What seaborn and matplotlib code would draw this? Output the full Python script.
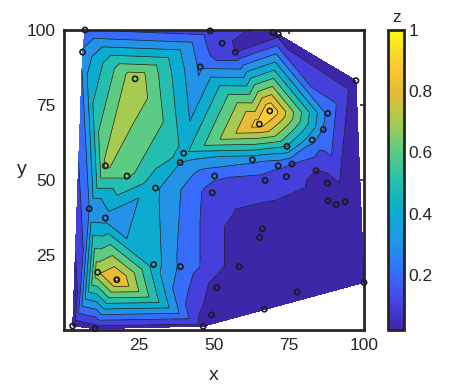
import numpy as np
import matplotlib
matplotlib.use("Agg")
import matplotlib.pyplot as plt
import matplotlib.tri as mtri
from matplotlib.colors import LinearSegmentedColormap, Normalize
from matplotlib.cm import ScalarMappable
import pandas as pd
import seaborn as sns

# scattered samples
x_pts = [7.0, 6.2, 23.7, 45.4, 48.7, 52.7, 57.1, 69.7, 71.4, 97.3,
         68.6, 65.1, 87.9, 86.4, 82.7, 74.3, 62.8, 71.4, 76.0, 84.0,
         50.2, 67.0, 74.1, 87.8, 88.0, 90.7, 93.7, 49.4, 66.1, 65.2,
         58.4, 50.9, 77.7, 66.8, 49.2, 46.4, 100.0, 39.9, 38.7, 13.8,
         21.0, 30.5, 8.4, 13.8, 11.2, 17.6, 29.9, 38.8, 2.9, 10.4]
y_pts = [100.0, 92.6, 83.7, 87.7, 99.7, 95.6, 92.6, 99.1, 98.6, 83.1,
         73.0, 68.6, 72.2, 66.8, 63.3, 61.2, 56.7, 54.7, 55.3, 53.1,
         51.3, 49.8, 51.1, 48.9, 43.1, 41.8, 42.7, 45.7, 33.7, 30.8,
         21.1, 14.1, 12.6, 6.9, 5.0, 1.2, 15.8, 58.9, 55.8, 54.7,
         51.3, 47.3, 40.4, 37.3, 19.2, 16.7, 21.8, 21.1, 1.3, 0.4]
z_vals = [0.20, 0.32, 0.78, 0.28, 0.15, 0.11, 0.10, 0.06, 0.06, 0.04,
          1.00, 0.95, 0.27, 0.30, 0.33, 0.50, 0.33, 0.22, 0.20, 0.10,
          0.22, 0.15, 0.15, 0.05, 0.04, 0.03, 0.03, 0.15, 0.04, 0.04,
          0.04, 0.05, 0.02, 0.02, 0.04, 0.06, 0.02, 0.47, 0.40, 0.72,
          0.62, 0.42, 0.30, 0.36, 0.78, 0.92, 0.45, 0.28, 0.02, 0.05]

levels = [0.1, 0.2, 0.3, 0.4, 0.5, 0.6, 0.7, 0.8, 0.9]
axis_ticks = [25, 50, 75, 100]
cbar_ticks = [0.2, 0.4, 0.6, 0.8, 1.0]
cbar_labels = ['0.2', '0.4', '0.6', '0.8', '1']

# parula-like colormap
parula_anchors = [
    (0.2422, 0.1504, 0.6603), (0.2783, 0.2715, 0.9153),
    (0.2036, 0.4508, 0.9943), (0.1265, 0.5946, 0.8948),
    (0.0328, 0.6856, 0.8073), (0.1520, 0.7534, 0.6782),
    (0.3785, 0.8012, 0.5042), (0.6672, 0.7955, 0.3048),
    (0.9209, 0.7310, 0.2153), (0.9890, 0.8110, 0.1868),
    (0.9769, 0.9839, 0.0805),
]
parula = LinearSegmentedColormap.from_list("parula", parula_anchors)

sns.set_theme(style="white")
plt.rcParams['font.family'] = ['Liberation Sans', 'DejaVu Sans']

df = pd.DataFrame({'x': x_pts, 'y': y_pts, 'z': z_vals})

fig = plt.figure(figsize=(4.74, 3.89), dpi=100)
ax = fig.add_axes([0.135, 0.152, 0.633, 0.771])
cax = fig.add_axes([0.819, 0.152, 0.034, 0.771])

zmin, zmax = df['z'].min(), df['z'].max()
norm = Normalize(zmin, zmax)
bounds = [zmin] + levels + [zmax + 1e-6]
# matlab style: each band takes the colour of its lower level
fill_colors = [parula(norm(b)) for b in bounds[:-1]]

tri = mtri.Triangulation(df['x'], df['y'])
ax.tricontourf(tri, df['z'], levels=bounds, colors=fill_colors)
ax.tricontour(tri, df['z'], levels=levels, colors='k', linewidths=0.5)

sns.scatterplot(data=df, x='x', y='y', ax=ax, marker='o', s=14,
                facecolors='none', edgecolor='k', linewidth=1.2,
                legend=False, zorder=5, clip_on=False)

ax.set_xlim(0, 100)
ax.set_ylim(0, 100)
ax.set_xticks(axis_ticks)
ax.set_yticks(axis_ticks)
ax.tick_params(direction='in', length=3, width=1.2, colors='#262626',
               labelsize=12.5, top=True, right=True, pad=6)
for sp in ax.spines.values():
    sp.set_linewidth(2)
    sp.set_color('#262626')
ax.set_xlabel('x', fontsize=14, color='#262626')
ax.set_ylabel('y', fontsize=14, color='#262626', rotation=0, va='center')
ax.xaxis.set_label_coords(0.5, -0.125)
ax.yaxis.set_label_coords(-0.14, 0.535)

sm = ScalarMappable(norm=Normalize(zmin, zmax), cmap=parula)
cb = fig.colorbar(sm, cax=cax)
cb.set_ticks(cbar_ticks)
cb.set_ticklabels(cbar_labels)
cb.outline.set_linewidth(2)
cb.outline.set_edgecolor('#262626')
cax.tick_params(direction='in', length=3, width=1.2, colors='#262626',
                labelsize=12.5, pad=3)
cax.set_title('z', fontsize=12.5, color='#262626', pad=6)

fig.savefig('out.png', dpi=100)
